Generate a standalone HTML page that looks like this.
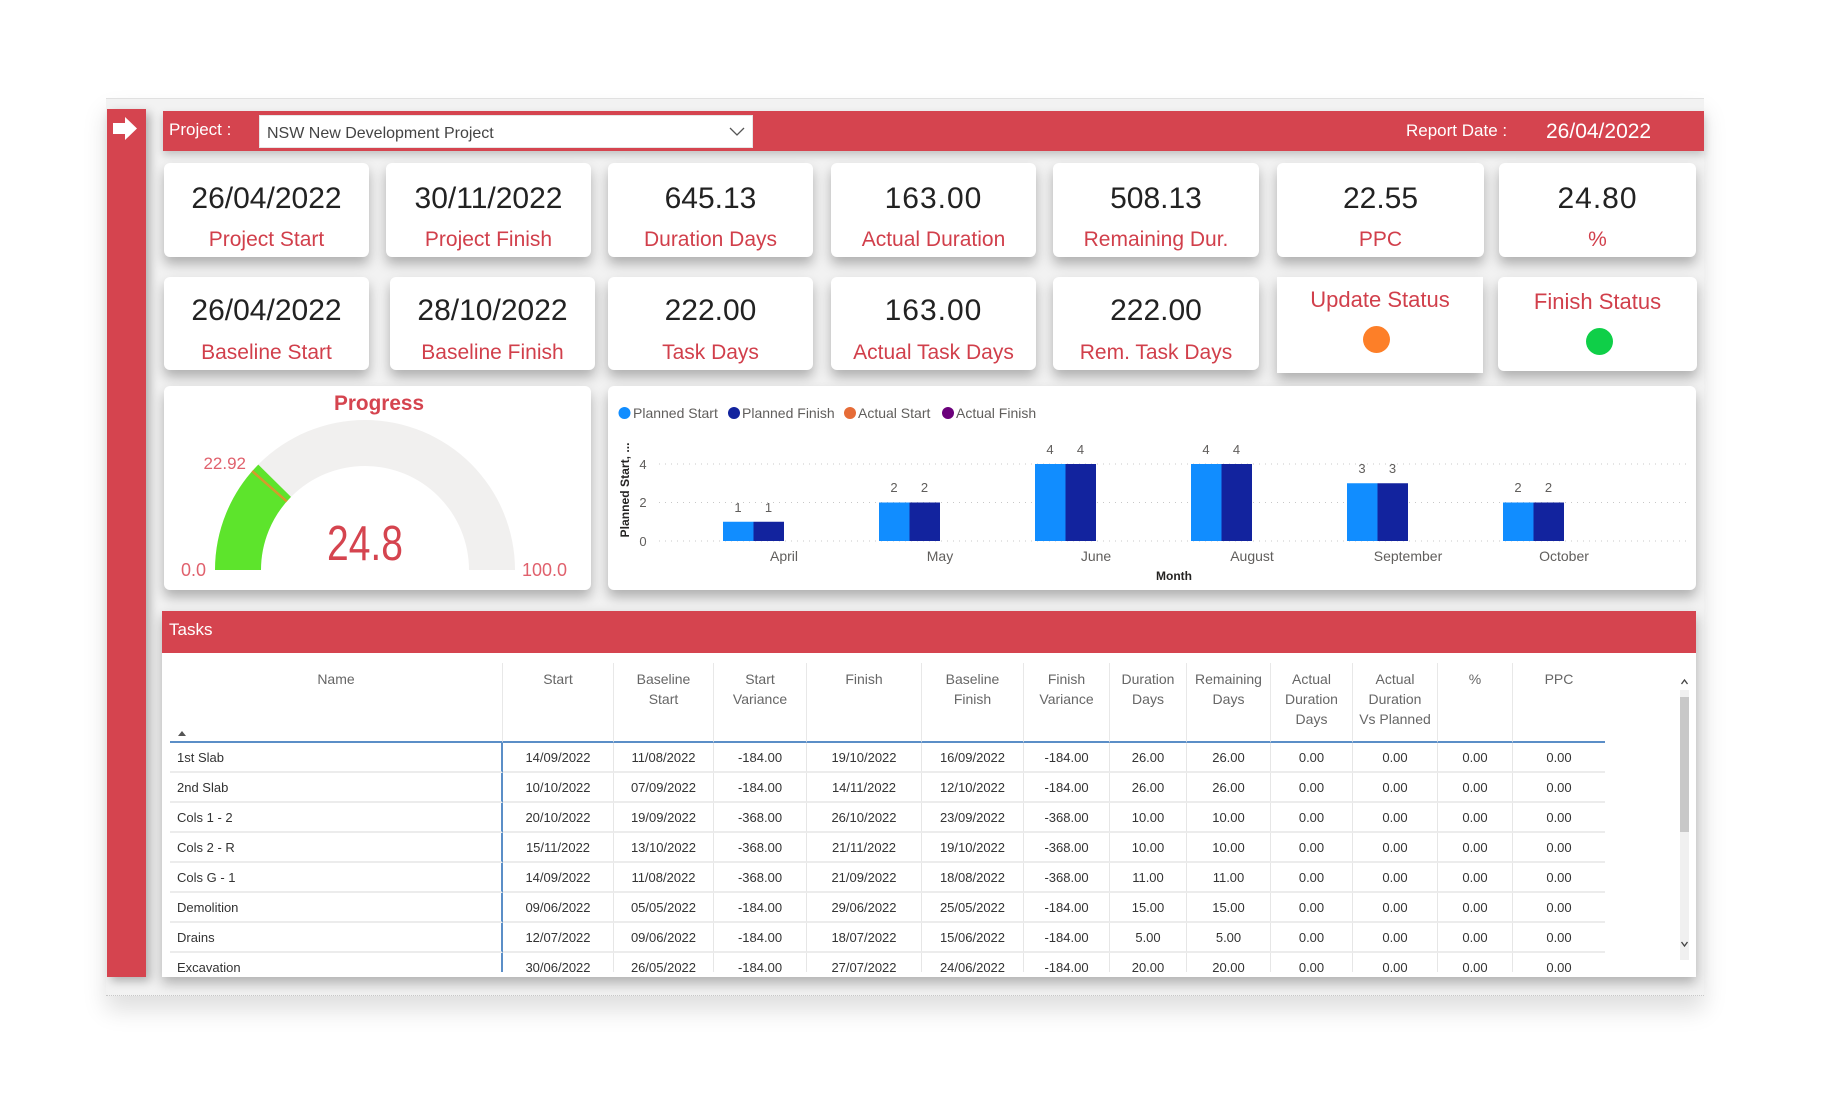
<!DOCTYPE html>
<html><head><meta charset="utf-8">
<style>
*{margin:0;padding:0;box-sizing:border-box}
html,body{width:1822px;height:1094px;overflow:hidden;background:#fff;font-family:"Liberation Sans",sans-serif}
.abs{position:absolute}
.panel{position:absolute;left:106px;top:98px;width:1598px;height:898px;background:#f2f2f2;border-top:1px solid #e0e0e0;border-bottom:1px dotted #c8c8c8;box-shadow:0 14px 22px rgba(0,0,0,0.13)}
.side{position:absolute;left:107px;top:109px;width:39px;height:868px;background:#d5444f;box-shadow:4px 4px 9px rgba(0,0,0,0.28)}
.hdr{position:absolute;left:163px;top:111px;width:1541px;height:40px;background:#d5444f;box-shadow:0 4px 8px rgba(0,0,0,0.2)}
.card{position:absolute;background:#fff;border-radius:6px;box-shadow:0 7px 12px rgba(0,0,0,0.28)}
.val{position:absolute;left:0;right:0;text-align:center;font-size:30px;line-height:36px;color:#222}
.lab{position:absolute;left:0;right:0;text-align:center;font-size:21px;line-height:26px;color:#d13f4b}
.tasks{position:absolute;left:162px;top:611px;width:1534px;height:366px;background:#fff;box-shadow:0 6px 12px rgba(0,0,0,0.28)}
.thead{position:absolute;left:0;top:0;width:1534px;height:42px;background:#d5444f}
table{border-collapse:separate;border-spacing:0;table-layout:fixed;width:1435px}
th{font-weight:normal;font-size:14px;line-height:20px;color:#666;vertical-align:top;padding-top:6px;height:80px;border-bottom:2px solid #5b8ec7;border-right:1px solid #e8e8e8;text-align:center}
td{font-size:13px;line-height:26px;padding-top:2px;height:30px;color:#333;border-bottom:2px solid #ececec;border-right:1px solid #e6e6e6;text-align:center;white-space:nowrap;overflow:hidden}
td.n{text-align:left;padding-left:7px;border-right:2px solid #5b8ec7}
th:last-child,td:last-child{border-right:none}
</style></head><body>

<div class="panel"></div>
<div class="side"></div>
<svg class="abs" style="left:0;top:0" width="200" height="200"><polygon points="113,123 125,123 125,117 137,128.5 125,140 125,134 113,134" fill="#fff"/></svg>

<div class="hdr"></div>
<div class="abs" style="left:169px;top:119px;font-size:17px;line-height:22px;color:#fff">Project :</div>
<div class="abs" style="left:259px;top:115px;width:494px;height:33px;background:#fff;border:1px solid #e6e6e6"></div>
<div class="abs" style="left:267px;top:124px;font-size:16px;line-height:20px;color:#444">NSW New Development Project</div>
<svg class="abs" style="left:728px;top:125px" width="20" height="14"><polyline points="2,3 9,10 16,3" fill="none" stroke="#555" stroke-width="1.3"/></svg>
<div class="abs" style="left:1406px;top:120px;font-size:17px;line-height:22px;color:#fff">Report Date :</div>
<div class="abs" style="left:1546px;top:119px;font-size:21px;line-height:26px;color:#fff">26/04/2022</div>

<!-- Row 1 cards -->
<div class="card" style="left:164px;top:163px;width:205px;height:94px"><div class="val" style="top:18px">26/04/2022</div><div class="lab" style="top:64px">Project Start</div></div>
<div class="card" style="left:386px;top:163px;width:205px;height:94px"><div class="val" style="top:18px">30/11/2022</div><div class="lab" style="top:64px">Project Finish</div></div>
<div class="card" style="left:608px;top:163px;width:205px;height:94px"><div class="val" style="top:18px">645.13</div><div class="lab" style="top:64px">Duration Days</div></div>
<div class="card" style="left:831px;top:163px;width:205px;height:94px"><div class="val" style="top:18px;letter-spacing:1px">163.00</div><div class="lab" style="top:64px">Actual Duration</div></div>
<div class="card" style="left:1053px;top:163px;width:206px;height:94px"><div class="val" style="top:18px">508.13</div><div class="lab" style="top:64px">Remaining Dur.</div></div>
<div class="card" style="left:1277px;top:163px;width:207px;height:94px"><div class="val" style="top:18px">22.55</div><div class="lab" style="top:64px">PPC</div></div>
<div class="card" style="left:1499px;top:163px;width:197px;height:94px"><div class="val" style="top:18px;letter-spacing:1px">24.80</div><div class="lab" style="top:64px">%</div></div>

<!-- Row 2 cards -->
<div class="card" style="left:164px;top:277px;width:205px;height:93px"><div class="val" style="top:16px">26/04/2022</div><div class="lab" style="top:63px">Baseline Start</div></div>
<div class="card" style="left:390px;top:277px;width:205px;height:93px"><div class="val" style="top:16px">28/10/2022</div><div class="lab" style="top:63px">Baseline Finish</div></div>
<div class="card" style="left:608px;top:277px;width:205px;height:93px"><div class="val" style="top:16px">222.00</div><div class="lab" style="top:63px">Task Days</div></div>
<div class="card" style="left:831px;top:277px;width:205px;height:93px"><div class="val" style="top:16px;letter-spacing:1px">163.00</div><div class="lab" style="top:63px">Actual Task Days</div></div>
<div class="card" style="left:1053px;top:277px;width:206px;height:93px"><div class="val" style="top:16px">222.00</div><div class="lab" style="top:63px">Rem. Task Days</div></div>
<div class="card" style="left:1277px;top:277px;width:206px;height:96px;border-radius:0"><div class="lab" style="top:10px;font-size:22px">Update Status</div><div class="abs" style="left:86px;top:49px;width:27px;height:27px;border-radius:50%;background:#fd7f28"></div></div>
<div class="card" style="left:1498px;top:277px;width:199px;height:94px"><div class="lab" style="top:12px;font-size:22px">Finish Status</div><div class="abs" style="left:88px;top:51px;width:27px;height:27px;border-radius:50%;background:#0fcf48"></div></div>

<!-- Progress & chart cards -->
<div class="card" style="left:164px;top:386px;width:427px;height:204px"></div>
<div class="card" style="left:608px;top:386px;width:1088px;height:204px"></div>

<!-- Tasks table -->
<div class="tasks"><div class="thead"></div>
<div class="abs" style="left:7px;top:6px;font-size:17px;line-height:26px;color:#fff">Tasks</div>
</div>
<div class="abs" style="left:170px;top:663px;width:1435px;height:309px;overflow:hidden">
<table>
<colgroup><col style="width:333px"><col style="width:111px"><col style="width:100px"><col style="width:93px"><col style="width:115px"><col style="width:102px"><col style="width:86px"><col style="width:77px"><col style="width:84px"><col style="width:82px"><col style="width:85px"><col style="width:75px"><col style="width:92px"></colgroup>
<tr><th>Name</th><th>Start</th><th>Baseline<br>Start</th><th>Start<br>Variance</th><th>Finish</th><th>Baseline<br>Finish</th><th>Finish<br>Variance</th><th>Duration<br>Days</th><th>Remaining<br>Days</th><th>Actual<br>Duration<br>Days</th><th>Actual<br>Duration<br>Vs Planned</th><th>%</th><th>PPC</th></tr>
<tr><td class="n">1st Slab</td><td>14/09/2022</td><td>11/08/2022</td><td>-184.00</td><td>19/10/2022</td><td>16/09/2022</td><td>-184.00</td><td>26.00</td><td>26.00</td><td>0.00</td><td>0.00</td><td>0.00</td><td>0.00</td></tr>
<tr><td class="n">2nd Slab</td><td>10/10/2022</td><td>07/09/2022</td><td>-184.00</td><td>14/11/2022</td><td>12/10/2022</td><td>-184.00</td><td>26.00</td><td>26.00</td><td>0.00</td><td>0.00</td><td>0.00</td><td>0.00</td></tr>
<tr><td class="n">Cols 1 - 2</td><td>20/10/2022</td><td>19/09/2022</td><td>-368.00</td><td>26/10/2022</td><td>23/09/2022</td><td>-368.00</td><td>10.00</td><td>10.00</td><td>0.00</td><td>0.00</td><td>0.00</td><td>0.00</td></tr>
<tr><td class="n">Cols 2 - R</td><td>15/11/2022</td><td>13/10/2022</td><td>-368.00</td><td>21/11/2022</td><td>19/10/2022</td><td>-368.00</td><td>10.00</td><td>10.00</td><td>0.00</td><td>0.00</td><td>0.00</td><td>0.00</td></tr>
<tr><td class="n">Cols G - 1</td><td>14/09/2022</td><td>11/08/2022</td><td>-368.00</td><td>21/09/2022</td><td>18/08/2022</td><td>-368.00</td><td>11.00</td><td>11.00</td><td>0.00</td><td>0.00</td><td>0.00</td><td>0.00</td></tr>
<tr><td class="n">Demolition</td><td>09/06/2022</td><td>05/05/2022</td><td>-184.00</td><td>29/06/2022</td><td>25/05/2022</td><td>-184.00</td><td>15.00</td><td>15.00</td><td>0.00</td><td>0.00</td><td>0.00</td><td>0.00</td></tr>
<tr><td class="n">Drains</td><td>12/07/2022</td><td>09/06/2022</td><td>-184.00</td><td>18/07/2022</td><td>15/06/2022</td><td>-184.00</td><td>5.00</td><td>5.00</td><td>0.00</td><td>0.00</td><td>0.00</td><td>0.00</td></tr>
<tr><td class="n">Excavation</td><td>30/06/2022</td><td>26/05/2022</td><td>-184.00</td><td>27/07/2022</td><td>24/06/2022</td><td>-184.00</td><td>20.00</td><td>20.00</td><td>0.00</td><td>0.00</td><td>0.00</td><td>0.00</td></tr>
</table>
</div>

<!-- overlay SVG: gauge, chart, table extras -->
<svg class="abs" style="left:0;top:0" width="1822" height="1094" font-family="Liberation Sans, sans-serif">
  <!-- sort arrow -->
  <polygon points="178,736 186,736 182,731" fill="#555"/>
  <!-- scrollbar -->
  <rect x="1680" y="690" width="9" height="270" fill="#f0f0f0"/>
  <rect x="1680" y="697" width="9" height="135" fill="#c8c8c8"/>
  <polyline points="1681.5,684 1684.5,680 1687.5,684" fill="none" stroke="#444" stroke-width="1.3"/>
  <polyline points="1681.5,942 1684.5,946 1687.5,942" fill="none" stroke="#444" stroke-width="1.3"/>

  <!-- Gauge -->
  <text x="379" y="410" text-anchor="middle" font-size="21" font-weight="bold" fill="#d5444f" textLength="90" lengthAdjust="spacingAndGlyphs">Progress</text>
  <path d="M215 570 A150 150 0 0 1 515 570 L469 570 A104 104 0 0 0 261 570 Z" fill="#f1f0ef"/>
  <path d="M215 570 A150 150 0 0 1 258.3 464.6 L291 496.9 A104 104 0 0 0 261 570 Z" fill="#5de42c"/>
  <line x1="252.2" y1="471.1" x2="286.8" y2="501.4" stroke="#d59a2c" stroke-width="2.5"/>
  <text x="246" y="469" text-anchor="end" font-size="17" fill="#e0616d">22.92</text>
  <text x="181" y="576" font-size="18" fill="#e0616d">0.0</text>
  <text x="522" y="576" font-size="18" fill="#e0616d">100.0</text>
  <text x="365" y="560" text-anchor="middle" font-size="49" fill="#d5444f" textLength="76" lengthAdjust="spacingAndGlyphs">24.8</text>

  <!-- Legend -->
  <circle cx="624.5" cy="413" r="6" fill="#118dff"/>
  <text x="633" y="418" font-size="14" fill="#605e5c">Planned Start</text>
  <circle cx="734" cy="413" r="6" fill="#12239e"/>
  <text x="742" y="418" font-size="14" fill="#605e5c">Planned Finish</text>
  <circle cx="850" cy="413" r="6" fill="#e66c37"/>
  <text x="858" y="418" font-size="14" fill="#605e5c">Actual Start</text>
  <circle cx="948" cy="413" r="6" fill="#6b007b"/>
  <text x="956" y="418" font-size="14" fill="#605e5c">Actual Finish</text>

  <!-- axes -->
  <text transform="translate(629,490) rotate(-90)" text-anchor="middle" font-size="12" font-weight="bold" fill="#252423" textLength="95" lengthAdjust="spacingAndGlyphs">Planned Start, ...</text>
  <g stroke="#c8c8c8" stroke-width="1" stroke-dasharray="1 5">
    <line x1="659" y1="464" x2="1687" y2="464"/>
    <line x1="659" y1="502.5" x2="1687" y2="502.5"/>
    <line x1="659" y1="541" x2="1687" y2="541"/>
  </g>
  <g font-size="13" fill="#605e5c" text-anchor="middle">
    <text x="643" y="469">4</text>
    <text x="643" y="507">2</text>
    <text x="643" y="546">0</text>
  </g>

  <!-- bars -->
  <g>
    <rect x="723" y="521.75" width="30.5" height="19.25" fill="#118dff"/><rect x="753.5" y="521.75" width="30.5" height="19.25" fill="#12239e"/>
    <rect x="879" y="502.5" width="30.5" height="38.5" fill="#118dff"/><rect x="909.5" y="502.5" width="30.5" height="38.5" fill="#12239e"/>
    <rect x="1035" y="464" width="30.5" height="77" fill="#118dff"/><rect x="1065.5" y="464" width="30.5" height="77" fill="#12239e"/>
    <rect x="1191" y="464" width="30.5" height="77" fill="#118dff"/><rect x="1221.5" y="464" width="30.5" height="77" fill="#12239e"/>
    <rect x="1347" y="483.25" width="30.5" height="57.75" fill="#118dff"/><rect x="1377.5" y="483.25" width="30.5" height="57.75" fill="#12239e"/>
    <rect x="1503" y="502.5" width="30.5" height="38.5" fill="#118dff"/><rect x="1533.5" y="502.5" width="30.5" height="38.5" fill="#12239e"/>
  </g>
  <g font-size="13" fill="#605e5c" text-anchor="middle">
    <text x="738" y="512">1</text><text x="768.5" y="512">1</text>
    <text x="894" y="492">2</text><text x="924.5" y="492">2</text>
    <text x="1050" y="454">4</text><text x="1080.5" y="454">4</text>
    <text x="1206" y="454">4</text><text x="1236.5" y="454">4</text>
    <text x="1362" y="473">3</text><text x="1392.5" y="473">3</text>
    <text x="1518" y="492">2</text><text x="1548.5" y="492">2</text>
  </g>
  <g font-size="14" fill="#605e5c" text-anchor="middle">
    <text x="784" y="561">April</text>
    <text x="940" y="561">May</text>
    <text x="1096" y="561">June</text>
    <text x="1252" y="561">August</text>
    <text x="1408" y="561">September</text>
    <text x="1564" y="561">October</text>
  </g>
  <text x="1174" y="580" text-anchor="middle" font-size="12" font-weight="bold" fill="#252423">Month</text>
</svg>
</body></html>
